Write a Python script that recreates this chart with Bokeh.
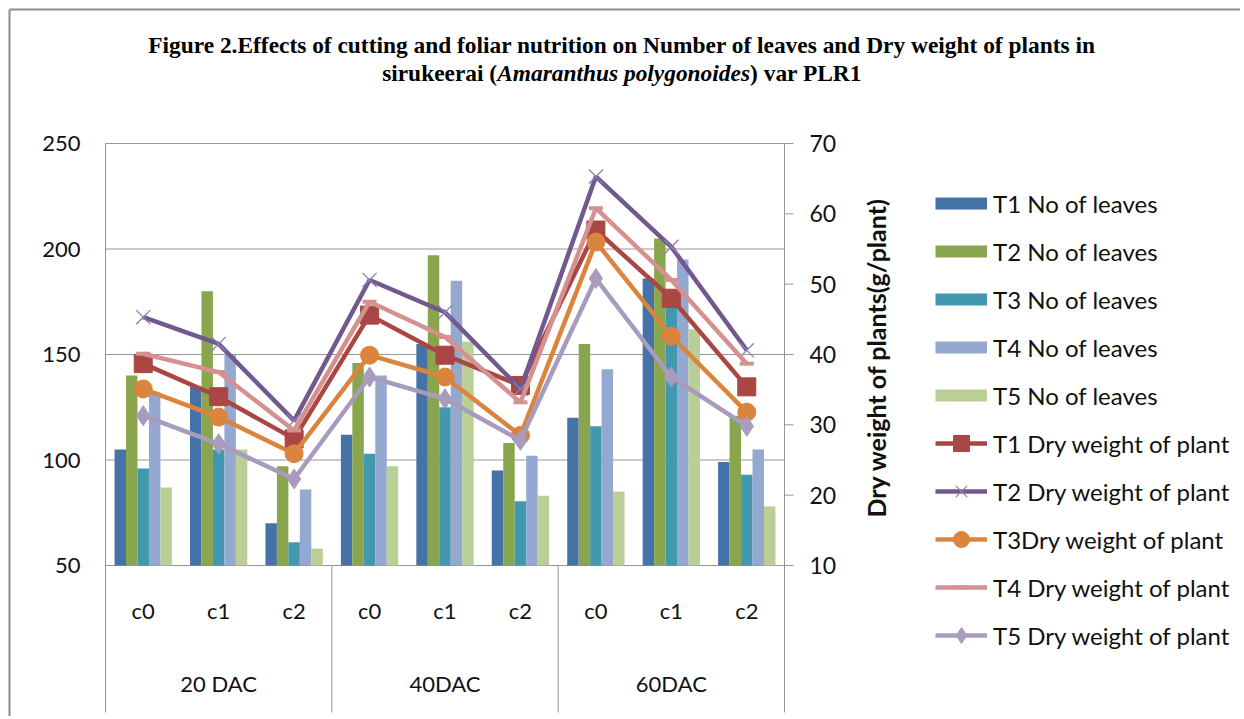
import math
from bokeh.plotting import figure
from bokeh.models import Range1d, Legend, LegendItem
from bokeh.embed import file_html
from bokeh.resources import INLINE
from bokeh.core.properties import value

# ---------------- data ----------------
groups = ["20 DAC", "40DAC", "60DAC"]
cuts = ["c0", "c1", "c2"]

leaves_T1 = [105, 135, 70, 112, 155, 95, 120, 186, 99]
leaves_T2 = [140, 180, 97, 146, 197, 108, 155, 205, 121]
leaves_T3 = [96, 105, 61, 103, 125, 80.5, 116, 178, 93]
leaves_T4 = [132, 150, 86, 140, 185, 102, 143, 195, 105]
leaves_T5 = [87, 105, 58, 97, 156, 83, 85, 162, 78]

dw_T1 = [38.7, 34.0, 28.0, 45.6, 39.9, 35.6, 57.7, 48.0, 35.4]
dw_T2 = [45.3, 41.5, 30.6, 50.6, 46.0, 35.1, 65.3, 55.3, 40.6]
dw_T3 = [35.1, 31.1, 25.9, 39.9, 36.8, 28.5, 56.0, 42.6, 31.8]
dw_T4 = [40.1, 37.5, 29.2, 47.5, 42.5, 33.2, 60.8, 50.6, 38.7]
dw_T5 = [31.3, 27.3, 22.3, 36.8, 33.7, 27.8, 50.8, 36.8, 29.8]

left_ticks = [50, 100, 150, 200, 250]
right_ticks = [10, 20, 30, 40, 50, 60, 70]

title1 = "Figure 2.Effects of cutting and foliar nutrition on Number of leaves and Dry weight of plants in"
title2a = "sirukeerai ("
title2b = "Amaranthus polygonoides"
title2c = ") var PLR1"
right_label = "Dry  weight of plants(g/plant)"

# ---------------- layout / styles ----------------
W, H = 1240, 716
SANS = "Lato"
SERIF = "Liberation Serif"
GRID = "#969696"
TXT = "#111111"

n = len(groups) * len(cuts)
xc = [i + 0.5 for i in range(n)]

# pixel geometry of the plotting area
PL, PR, PT, PB = 105.0, 784.0, 143.0, 565.0
PXU = (PR - PL) / n
LPX = (PB - PT) / (left_ticks[-1] - left_ticks[0])
RPX = (PB - PT) / (right_ticks[-1] - right_ticks[0])


def X(px):
    return (px - PL) / PXU


def YL(py):
    return left_ticks[0] + (PB - py) / LPX


def YR(py):
    return right_ticks[0] + (PB - py) / RPX


p = figure(width=W, height=H,
           x_range=Range1d(X(0), X(W)), y_range=Range1d(YL(H), YL(0)),
           output_backend="svg", toolbar_location=None,
           x_axis_location=None, y_axis_location=None,
           min_border=0, min_border_left=0, min_border_right=0,
           min_border_top=0, min_border_bottom=0)
p.extra_y_ranges = {"dw": Range1d(YR(H), YR(0))}
p.outline_line_color = None
p.grid.visible = False
p.background_fill_color = "white"
p.border_fill_color = "white"

# chart-area border (left and top edges visible in reference)
p.segment(x0=[X(9), X(9)], y0=[YL(H), YL(9)], x1=[X(9), X(W)], y1=[YL(9), YL(9)],
          line_color="#8c8c8c", line_width=2)

# gridlines
p.segment(x0=[0] * len(left_ticks), y0=left_ticks, x1=[n] * len(left_ticks), y1=left_ticks,
          line_color=GRID, line_width=1)

# bars
BW = 0.152
bar_series = [
    ("T1 No of leaves", leaves_T1, "#4572A7"),
    ("T2 No of leaves", leaves_T2, "#89A54E"),
    ("T3 No of leaves", leaves_T3, "#4198AF"),
    ("T4 No of leaves", leaves_T4, "#94A8D0"),
    ("T5 No of leaves", leaves_T5, "#B9CF95"),
]
NAN = float("nan")
legend_items = []
for k, (name, vals, col) in enumerate(bar_series):
    p.vbar(x=[x + (k - 2) * BW for x in xc], top=vals, bottom=left_ticks[0],
           width=BW, fill_color=col, line_color=None)
    # legend swatch: a wide line that is never drawn in the plot (NaN data)
    dummy = p.line(x=[NAN, NAN], y=[NAN, NAN], line_color=col, line_width=12)
    legend_items.append(LegendItem(label=name, renderers=[dummy]))

# axis lines and category separators
ybot = YL(712)
p.segment(x0=[0, n], y0=[ybot, ybot], x1=[0, n], y1=[left_ticks[-1]] * 2,
          line_color=GRID, line_width=1)
sep_x = [len(cuts) * g for g in range(1, len(groups))]
p.segment(x0=sep_x, y0=[ybot] * len(sep_x), x1=sep_x, y1=[left_ticks[0]] * len(sep_x),
          line_color=GRID, line_width=1)

# right axis ticks
p.segment(x0=[n] * len(right_ticks), y0=right_ticks,
          x1=[n + 9 / PXU] * len(right_ticks), y1=right_ticks,
          y_range_name="dw", line_color=GRID, line_width=1)

# tick labels
p.text(x=[-25 / PXU] * len(left_ticks), y=left_ticks, text=[str(t) for t in left_ticks],
       text_align="right", text_baseline="middle", text_font=value(SANS),
       text_font_size="22px", text_color=TXT)
p.text(x=[n + 25 / PXU] * len(right_ticks), y=right_ticks, text=[str(t) for t in right_ticks],
       y_range_name="dw", text_align="left", text_baseline="middle",
       text_font=value(SANS), text_font_size="23px", text_color=TXT)

# right axis title
p.text(x=[X(875)], y=[YL(354)], text=[right_label], angle=math.pi / 2,
       text_align="center", text_baseline="middle", text_font=value(SANS),
       text_font_size="25px", text_font_style="bold", text_color=TXT)

# category labels
p.text(x=xc, y=[YL(610)] * n, text=cuts * len(groups), text_align="center",
       text_baseline="middle", text_font=value(SANS), text_font_size="22px",
       text_color=TXT)
p.text(x=[len(cuts) * g + len(cuts) / 2 for g in range(len(groups))],
       y=[YL(683)] * len(groups), text=groups, text_align="center",
       text_baseline="middle", text_font=value(SANS), text_font_size="22px",
       text_color=TXT)

# lines
line_series = [
    ("T1 Dry weight of plant", dw_T1, "#AA4643", "square", 18, "#AA4643", 1),
    ("T2 Dry weight of plant", dw_T2, "#71588F", "x", 20, "#8E7EB8", 1.3),
    ("T3Dry weight of plant", dw_T3, "#DB843D", "circle", 18, "#DB843D", 1),
    ("T4 Dry weight of plant", dw_T4, "#D4918F", "dash", 14, "#D4918F", 4),
    ("T5 Dry weight of plant", dw_T5, "#A99BBD", "diamond", 20, "#A99BBD", 1),
]
for name, vals, col, mk, sz, mcol, mlw in line_series:
    lr = p.line(x=xc, y=vals, y_range_name="dw", line_color=col, line_width=4.5)
    sr = p.scatter(x=xc, y=vals, y_range_name="dw", marker=mk, size=sz,
                   fill_color=mcol, line_color=mcol, line_width=mlw)
    legend_items.append(LegendItem(label=name, renderers=[lr, sr]))

legend = Legend(items=legend_items, location=(935, H - 655), orientation="vertical",
                glyph_width=52, glyph_height=40, spacing=8, label_standoff=6,
                label_text_font=SANS, label_text_font_size="24px",
                label_text_color=TXT, border_line_color=None,
                background_fill_alpha=0, padding=0, margin=0)
p.add_layout(legend, "center")

# title
FS = 23.4
w_a = 4.916 * FS
w_b = 10.808 * FS
w_c = 4.777 * FS
TC = 621.5
start = TC - (w_a + w_b + w_c) / 2
p.text(x=[X(TC)], y=[YL(44)], text=[title1], text_align="center", text_baseline="middle",
       text_font=value(SERIF), text_font_size=f"{FS}px", text_font_style="bold",
       text_color="black")
p.text(x=[X(start), X(start + w_a + w_b)], y=[YL(72)] * 2, text=[title2a, title2c],
       text_align="left", text_baseline="middle", text_font=value(SERIF),
       text_font_size=f"{FS}px", text_font_style="bold", text_color="black")
p.text(x=[X(start + w_a)], y=[YL(72)], text=[title2b],
       text_align="left", text_baseline="middle", text_font=value(SERIF),
       text_font_size=f"{FS}px", text_font_style="bold italic", text_color="black")

open("out.html", "w").write(file_html(p, INLINE))
